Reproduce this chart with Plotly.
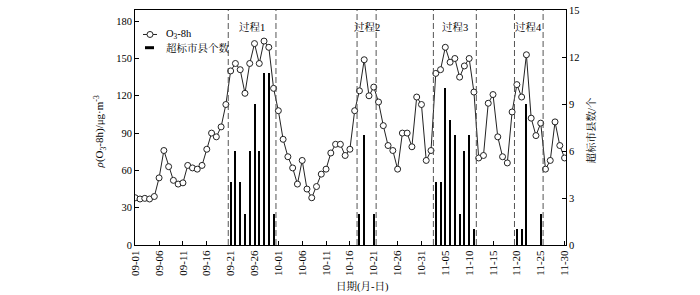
import plotly.graph_objects as go

# ---------------- data ----------------
days = list(range(91))  # 09-01 .. 11-30
tick_pos = list(range(0, 91, 5))
tick_labels = ["09-01", "09-06", "09-11", "09-16", "09-21", "09-26", "10-01", "10-06",
               "10-11", "10-16", "10-21", "10-26", "10-31", "11-05", "11-10", "11-15",
               "11-20", "11-25", "11-30"]

o3_8h = [38, 37, 37.5, 37, 39, 54, 76, 63, 52, 49,
         50, 64, 62, 61, 64, 77, 90, 87, 95, 113,
         140, 146, 141, 122, 146, 162, 146, 164, 159, 126,
         108, 85, 71, 62, 49, 68, 45, 38, 47, 57,
         61, 74, 81, 81, 72, 77, 108, 124, 149, 120,
         127, 115, 96, 80, 76, 61, 90, 90, 79, 119,
         113, 68, 76, 138, 141, 159, 147, 150, 135, 144,
         150, 123, 70, 72, 114, 121, 87, 71, 66, 107,
         129, 119, 153, 102, 88, 98, 61, 68, 99, 80,
         70]

exceed_days = [20, 21, 22, 23, 24, 25, 26, 27, 28, 29,
               47, 48, 50,
               63, 64, 65, 66, 67, 68, 69, 70, 71,
               80, 81, 82, 85]
exceed_counts = [4, 6, 4, 2, 6, 9, 6, 11, 11, 2,
                 2, 7, 2,
                 4, 4, 10, 8, 7, 2, 6, 7, 1,
                 1, 1, 9, 2]

process_names = ["过程1", "过程2", "过程3", "过程4"]
process_start = [20, 47, 63, 80]
process_end = [29, 50, 71, 85]

FONT = "Liberation Serif, 'Noto Serif CJK SC', 'Noto Sans CJK SC', serif"

# ---------------- geometry ----------------
W, H = 700, 295
ML, MR, MT, MB = 135, 134, 5, 50
PW = W - ML - MR
PH = H - MT - MB


def px_x(px):
    return (px - ML) / PW


def px_y(py):
    return (H - MB - py) / PH


fig = go.Figure()

fig.add_trace(go.Bar(
    x=exceed_days, y=exceed_counts, yaxis="y", width=0.42,
    marker=dict(color="black", line=dict(width=0)),
    showlegend=False, name="超标市县个数"))

fig.add_trace(go.Scatter(
    x=days, y=o3_8h, yaxis="y2", mode="lines+markers",
    line=dict(color="#222", width=1),
    marker=dict(symbol="circle", size=6, color="white", line=dict(color="#222", width=1)),
    showlegend=False, name="O3-8h", cliponaxis=True))

shapes = []
for s, e in zip(process_start, process_end):
    for xv in (s - 0.5, e + 0.5):
        shapes.append(dict(type="line", xref="x", yref="paper", x0=xv, x1=xv, y0=0, y1=1,
                           line=dict(color="#555", width=1, dash="6px,3px")))

annotations = []
for name, s, e in zip(process_names, process_start, process_end):
    annotations.append(dict(text=name, x=(s + e) / 2, xref="x", y=px_y(22), yref="paper",
                            showarrow=False, xanchor="center", yanchor="middle",
                            font=dict(family=FONT, size=10.5, color="black")))

# manual legend
shapes.append(dict(type="line", xref="paper", yref="paper",
                   x0=px_x(143), x1=px_x(157), y0=px_y(30), y1=px_y(30),
                   line=dict(color="#222", width=1)))
shapes.append(dict(type="circle", xref="paper", yref="paper",
                   xsizemode="pixel", ysizemode="pixel",
                   xanchor=px_x(150), yanchor=px_y(30),
                   x0=-3, x1=3, y0=-3, y1=3,
                   line=dict(color="#222", width=1), fillcolor="white"))
shapes.append(dict(type="line", xref="paper", yref="paper",
                   x0=px_x(145), x1=px_x(154), y0=px_y(43.5), y1=px_y(43.5),
                   line=dict(color="black", width=3)))
annotations.append(dict(text="O<sub>3</sub>-8h", x=px_x(164), y=px_y(30), xref="paper", yref="paper",
                        showarrow=False, xanchor="left", yanchor="middle",
                        font=dict(family=FONT, size=10.5, color="black")))
annotations.append(dict(text="超标市县个数", x=px_x(164), y=px_y(43.5), xref="paper", yref="paper",
                        showarrow=False, xanchor="left", yanchor="middle",
                        font=dict(family=FONT, size=10.5, color="black")))

# axis titles
annotations.append(dict(text="<i>ρ</i>(O<sub>3</sub>-8h)/μg·m<sup>-3</sup>", x=px_x(100), y=px_y(130),
                        xref="paper", yref="paper", showarrow=False, textangle=-90,
                        xanchor="center", yanchor="middle",
                        font=dict(family=FONT, size=11, color="black")))
annotations.append(dict(text="超标市县数/个", x=px_x(591), y=px_y(128),
                        xref="paper", yref="paper", showarrow=False, textangle=-90,
                        xanchor="center", yanchor="middle",
                        font=dict(family=FONT, size=10.5, color="black")))
annotations.append(dict(text="日期(月-日)", x=px_x(362), y=px_y(287),
                        xref="paper", yref="paper", showarrow=False,
                        xanchor="center", yanchor="middle",
                        font=dict(family=FONT, size=10.5, color="black")))

fig.update_layout(
    width=W, height=H,
    margin=dict(l=ML, r=MR, t=MT, b=MB),
    paper_bgcolor="white", plot_bgcolor="white",
    font=dict(family=FONT, color="black"),
    bargap=0,
    xaxis=dict(range=[-0.05, 90.3], tickvals=tick_pos, ticktext=tick_labels,
               tickangle=-90, ticks="inside", ticklen=4, tickcolor="black",
               showline=True, linecolor="black", linewidth=1, mirror=True,
               showgrid=False, zeroline=False, tickfont=dict(size=11, family=FONT),
               ticklabeloverflow="allow", anchor="y"),
    yaxis=dict(range=[0, 15], side="right", tickvals=[0, 3, 6, 9, 12, 15],
               ticks="inside", ticklen=4, tickcolor="black",
               showline=True, linecolor="black", linewidth=1,
               showgrid=False, zeroline=False, tickfont=dict(size=10.5, family=FONT),
               ticklabeloverflow="allow"),
    yaxis2=dict(range=[0, 189], side="left", overlaying="y", anchor="x",
                tickvals=[0, 30, 60, 90, 120, 150, 180],
                ticks="inside", ticklen=4, tickcolor="black",
                showline=True, linecolor="black", linewidth=1,
                showgrid=False, zeroline=False, tickfont=dict(size=10.5, family=FONT),
                ticklabeloverflow="allow"),
    shapes=shapes,
    annotations=annotations,
)

fig.write_html("out.html")
